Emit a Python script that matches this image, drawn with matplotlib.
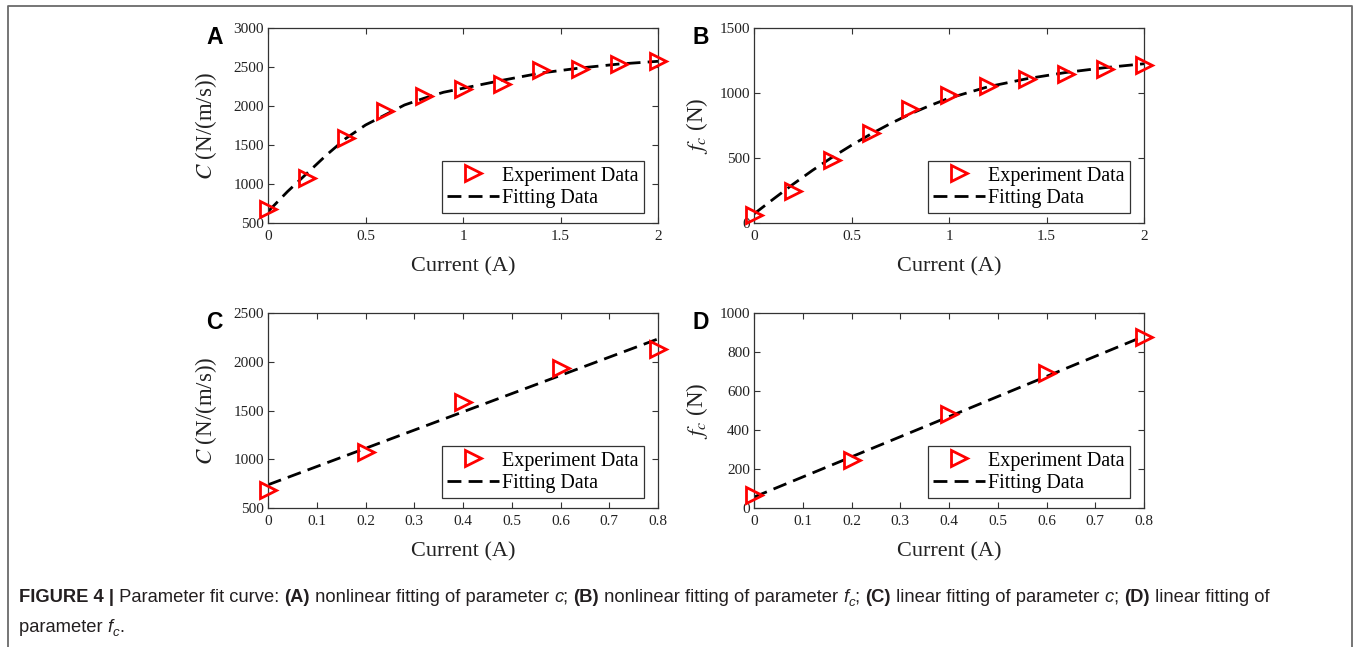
import matplotlib
matplotlib.use("Agg")
import matplotlib.pyplot as plt
import matplotlib.transforms as mtransforms
from matplotlib.lines import Line2D
from matplotlib.ticker import FormatStrFormatter

plt.rcParams['font.family'] = 'Liberation Serif'

# experiment points (current in A)
cur_nl = [0, 0.2, 0.4, 0.6, 0.8, 1.0, 1.2, 1.4, 1.6, 1.8, 2.0]
exp_c_nl = [679, 1077, 1590, 1932, 2133, 2222, 2286, 2457, 2474, 2543, 2573]
exp_fc_nl = [64, 250, 485, 696, 880, 982, 1054, 1105, 1150, 1181, 1214]

# fitted curves
fit_x_nl = [0, 0.1, 0.2, 0.3, 0.4, 0.5, 0.6, 0.7, 0.8, 0.9, 1.0, 1.2, 1.4, 1.6, 1.8, 2.0]
fit_c_nl = [646, 903, 1137, 1372, 1586, 1756, 1885, 2013, 2099, 2176, 2227, 2329, 2423, 2487, 2538, 2573]
fit_fc_nl = [70, 185, 298, 405, 505, 598, 685, 765, 838, 902, 960, 1048, 1110, 1158, 1195, 1225]

cur_l = [0, 0.2, 0.4, 0.6, 0.8]
exp_c_l = [687, 1077, 1585, 1934, 2130]
exp_fc_l = [65, 247, 481, 694, 878]
fit_x_l = [0, 0.8]
fit_c_l = [738, 2234]
fit_fc_l = [56, 881]

W, H = 1359, 647
fig = plt.figure(figsize=(W / 100, H / 100), dpi=100)


def px_axes(x0, y0, x1, y1):
    return fig.add_axes([x0 / W, 1 - y1 / H, (x1 - x0) / W, (y1 - y0) / H])


def panel(ax, xs, ys, fx, fy, xlim, xticks, ylim, yticks, ylabel, letter, lx):
    ax.plot(fx, fy, color='black', lw=2.0, ls=(0, (5, 2.6)), label='Fitting Data', zorder=2)
    ax.plot(xs, ys, ls='none', marker='>', ms=11, mfc='none', mec='#ff0000', mew=2.0,
            clip_on=False, label='Experiment Data', zorder=3)
    ax.set_xlim(xlim)
    ax.set_ylim(ylim)
    ax.set_xticks(xticks)
    ax.set_yticks(yticks)
    ax.xaxis.set_major_formatter(FormatStrFormatter('%g'))
    ax.yaxis.set_major_formatter(FormatStrFormatter('%g'))
    ax.tick_params(direction='in', top=True, right=True, length=4, width=0.8,
                   color='#333333', labelsize=11, labelcolor='#222222')
    ax.tick_params(axis='x', pad=5)
    ax.tick_params(axis='y', pad=3)
    for s in ax.spines.values():
        s.set_color('#333333')
        s.set_linewidth(0.9)
    ax.set_xlabel('Current (A)', fontsize=16, color='#222222')
    ax.set_ylabel(ylabel, fontsize=16.5, color='#222222', math_fontfamily='stix')
    ax.xaxis.set_label_coords(0.5, -0.175)
    ax.yaxis.set_label_coords(lx, 0.5)
    h, l = ax.get_legend_handles_labels()
    leg = ax.legend(h[::-1], l[::-1], loc='lower right', bbox_to_anchor=(0.963, 0.053),
                    borderaxespad=0, fontsize=14.5, frameon=True, fancybox=False,
                    edgecolor='#333333', framealpha=1, handlelength=2.6,
                    handletextpad=0.15, labelspacing=0.15, borderpad=0.25)
    leg.get_frame().set_linewidth(0.9)
    bb = ax.get_position()
    fig.text(bb.x0 - 62 / W, bb.y1 + 2 / H, letter, fontsize=16.5, fontweight='bold',
             family='Liberation Sans', va='top', ha='left')


ax_a = px_axes(268, 28, 658, 223)
panel(ax_a, cur_nl, exp_c_nl, fit_x_nl, fit_c_nl, (0, 2), [0, 0.5, 1, 1.5, 2],
      (500, 3000), range(500, 3001, 500), r'$C$ (N/(m/s))', 'A', -0.125)

ax_b = px_axes(754, 28, 1144, 223)
panel(ax_b, cur_nl, exp_fc_nl, fit_x_nl, fit_fc_nl, (0, 2), [0, 0.5, 1, 1.5, 2],
      (0, 1500), range(0, 1501, 500), r'$f_c$ (N)', 'B', -0.112)

ax_c = px_axes(268, 313, 658, 508)
panel(ax_c, cur_l, exp_c_l, fit_x_l, fit_c_l, (0, 0.8),
      [0, 0.1, 0.2, 0.3, 0.4, 0.5, 0.6, 0.7, 0.8],
      (500, 2500), range(500, 2501, 500), r'$C$ (N/(m/s))', 'C', -0.125)

ax_d = px_axes(754, 313, 1144, 508)
panel(ax_d, cur_l, exp_fc_l, fit_x_l, fit_fc_l, (0, 0.8),
      [0, 0.1, 0.2, 0.3, 0.4, 0.5, 0.6, 0.7, 0.8],
      (0, 1000), range(0, 1001, 200), r'$f_c$ (N)', 'D', -0.112)

# outer frame (open at the bottom)
frame_x = [8 / W, 8 / W, 1352 / W, 1352 / W]
frame_y = [0, 1 - 6 / H, 1 - 6 / H, 0]
fig.add_artist(Line2D(frame_x, frame_y, color='#6a6a6a', lw=1.3, transform=fig.transFigure))

# caption, written piece by piece so bold / italic parts follow each other
# each piece: text, weight, style, size factor, baseline shift in px
renderer = fig.canvas.get_renderer()
ident = mtransforms.IdentityTransform()
N, B, I = 'normal', 'bold', 'italic'
fc = [("f", N, I, 1.0, 0), ("c", N, I, 0.72, -4)]
line1 = [("FIGURE 4 |", B, N, 1.0, 0), (" Parameter fit curve: ", N, N, 1.0, 0),
         ("(A)", B, N, 1.0, 0), (" nonlinear fitting of parameter ", N, N, 1.0, 0),
         ("c", N, I, 1.0, 0), ("; ", N, N, 1.0, 0),
         ("(B)", B, N, 1.0, 0), (" nonlinear fitting of parameter ", N, N, 1.0, 0)] + fc + [
         ("; ", N, N, 1.0, 0),
         ("(C)", B, N, 1.0, 0), (" linear fitting of parameter ", N, N, 1.0, 0),
         ("c", N, I, 1.0, 0), ("; ", N, N, 1.0, 0),
         ("(D)", B, N, 1.0, 0), (" linear fitting of", N, N, 1.0, 0)]
line2 = [("parameter ", N, N, 1.0, 0)] + fc + [(".", N, N, 1.0, 0)]

cap_size = 13.2
for segs, ybase in [(line1, H - 602), (line2, H - 632)]:
    x = 19
    for s, w, st, f, dy in segs:
        t = fig.text(x, ybase + dy, s, transform=ident, fontsize=cap_size * f, fontweight=w,
                     fontstyle=st, family='Liberation Sans', color='#231f20',
                     va='baseline', ha='left')
        x = t.get_window_extent(renderer).x1

fig.savefig('out.png', dpi=100)
